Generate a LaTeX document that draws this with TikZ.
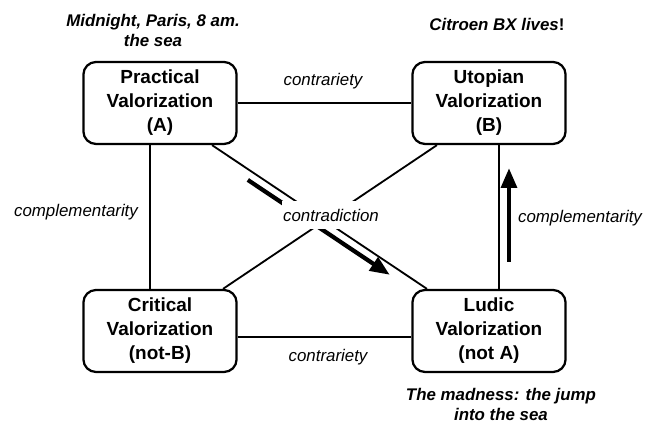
\documentclass[tikz,border=0pt]{standalone}
\usepackage{fontspec}
\setmainfont{Liberation Sans}
\usetikzlibrary{arrows.meta,calc}

\begin{document}
\begin{tikzpicture}[x=.025cm,y=-.025cm,
  valbox/.style={draw,line width=1.6pt,rounded corners=9pt,minimum width=3.83cm,minimum height=2.05cm,align=center,font=\fontsize{13.5}{17}\selectfont\bfseries},
  rel/.style={font=\fontsize{12}{14}\selectfont\itshape},
  note/.style={align=center,font=\fontsize{12}{14.2}\selectfont\bfseries\itshape},
  link/.style={line width=1.3pt},
  push/.style={line width=3pt,-{Triangle[length=14pt,width=11pt]}}]
\useasboundingbox (0,0) rectangle (654,425);
\node[valbox] (prac) at (160,103){Practical\\Valorization\\(A)};
\node[valbox] (utop) at (489,103){Utopian\\Valorization\\(B)};
\node[valbox] (crit) at (160,331){Critical\\Valorization\\(not-B)};
\node[valbox] (ludic) at (489,331){Ludic\\Valorization\\(not A)};
\coordinate (ad1) at ([xshift=1.3cm]prac.south);
\coordinate (ad2) at ([xshift=-1.55cm]ludic.north);
\coordinate (bd1) at ([xshift=.25cm]utop.south);
\coordinate (bd2) at ([xshift=.25cm]ludic.north);
\draw[link] (prac)--(utop);
\draw[link] ([yshift=-.15cm]crit.east)--([yshift=-.15cm]ludic.west);
\draw[link] ([xshift=-.25cm]prac.south)--([xshift=-.25cm]crit.north);
\draw[link] (bd1)--(bd2);
\draw[link] (ad1)--(ad2);
\draw[link] ([xshift=-1.3cm]utop.south)--([xshift=1.575cm]crit.north);
\draw[push] ($(ad1)!.19!(ad2)+(-5,7.5)$)--($(ad1)!.85!(ad2)+(-5,7.5)$);
\draw[push] ($(bd2)+(10,-27)$)--($(bd1)+(10,23)$);
\node[rel] (ctop) at (323,81){contrariety};
\node[rel] (cbot) at (328,357){contrariety};
\node[rel] (cleft) at (76,212){complementarity};
\node[rel] (cright) at (580,218){complementarity};
\node[rel,fill=white,inner xsep=1pt,minimum height=.7cm] (contra) at (331,215){contradiction};
\node[note] (paris) at (153,30){Midnight, Paris, 8 am.\\the sea};
\node[note] (citroen) at (497,24){Citroen BX lives{\upshape!}};
\node[note] (madness) at (501,404){The madness: the jump\\into the sea};
\end{tikzpicture}
\end{document}
